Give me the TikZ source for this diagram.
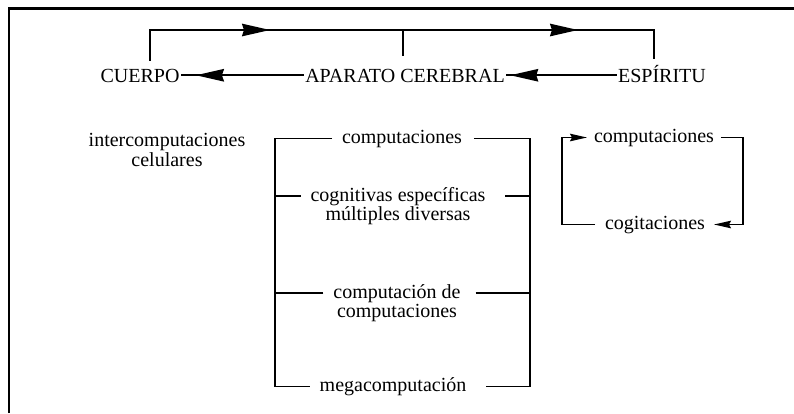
\documentclass[tikz,border=0pt]{standalone}
\usepackage{fontspec}
\setmainfont{Liberation Serif}
\usetikzlibrary{arrows.meta,decorations.markings}
\begin{document}
\begin{tikzpicture}[x=1pt,y=-1pt,
  bigtip/.tip={Stealth[length=28pt,width=12.5pt,inset=2pt]},
  smalltip/.tip={Stealth[length=17pt,width=7.5pt,inset=2pt]},
  txt/.style={font=\fontsize{20}{19.5}\selectfont, inner sep=0pt, outer sep=0pt},
  capt/.style={txt, text height=13.5pt, text depth=0pt, anchor=base, outer xsep=1.5pt},
  one/.style={txt, text height=13pt, text depth=4pt, anchor=base, inner xsep=10pt},
  two/.style={txt, align=center, anchor=north, inner xsep=10pt},
  loopt/.style={txt, text height=13pt, text depth=4pt, anchor=base, inner xsep=7pt},
  conn/.style={line width=1.7pt},
  frame/.style={line width=2.8pt},
  midarrows/.style={postaction={decorate}, decoration={markings,
     mark=at position 150.5pt with {\arrow{bigtip}},
     mark=at position 458.5pt with {\arrow{bigtip}}}},
  endarrow/.style={postaction={decorate}, decoration={markings,
     mark=at position #1 with {\arrow{bigtip}}}}
]
\useasboundingbox (0,0) rectangle (794,413);
\draw[frame] (9,413) -- (9,8.5) -- (794,8.5);

% top row
\node[capt] (cuerpo) at (140,82) {CUERPO};
\node[capt] (aparato) at (405,82) {APARATO CEREBRAL};
\node[capt] (espiritu) at (662,82) {ESPÍRITU};

\coordinate (cu) at ([xshift=10pt,yshift=8pt]cuerpo.north);
\coordinate (ap) at ([xshift=-2pt,yshift=13pt]aparato.north);
\coordinate (es) at ([xshift=-8pt,yshift=10pt]espiritu.north);
\coordinate (top) at (0,30);

\draw[conn, midarrows] (cu) -- (cu |- top) -- (es |- top) -- (es);
\draw[conn] (ap |- top) -- (ap);
\draw[conn, endarrow=-15pt] (aparato.west) -- (cuerpo.east);
\draw[conn, endarrow=-4pt] (espiritu.west) -- (aparato.east);

% left text
\node[two] (inter) at (167,133.3) {intercomputaciones\\celulares};

% bracket column
\node[one] (c1) at (402,143) {computaciones};
\node[two] (c2) at (398,187.3) {cognitivas específicas\\múltiples diversas};
\node[two] (c3) at (397,284.3) {computación de\\computaciones};
\node[one] (c4) at (393,391) {megacomputación};

\coordinate (bl) at (275,0);
\coordinate (br) at (530,0);
\coordinate (c2l) at ([yshift=-8.7pt]c2.north west);
\coordinate (c2r) at ([yshift=-8.7pt]c2.north east);
\coordinate (c3l) at ([yshift=-8.7pt]c3.north west);
\coordinate (c3r) at ([yshift=-8.7pt]c3.north east);

\draw[conn] (c1.west) -- (c1.west -| bl) -- (c4.west -| bl) -- (c4.west);
\draw[conn, shorten <=2pt] (c1.east) -- (c1.east -| br) -- (c4.east -| br) -- ([xshift=10pt]c4.east);
\draw[conn] (c2l) -- (c2l -| bl);
\draw[conn] (c3l) -- (c3l -| bl);
\draw[conn, shorten <=10pt] (c2r) -- (c2r -| br);
\draw[conn, shorten <=5pt] (c3r) -- (c3r -| br);

% right loop
\node[loopt] (r1) at (654,142) {computaciones};
\node[loopt] (r2) at (655,229) {cogitaciones};
\coordinate (rl) at (562,0);
\coordinate (rr) at (743,0);
\draw[conn, -{smalltip}] ([xshift=-3pt]r2.west) -- (r2.west -| rl) -- (r1.west -| rl) -- (r1.west);
\draw[conn, -{smalltip}] (r1.east) -- (r1.east -| rr) -- (r2.east -| rr) -- ([xshift=2pt]r2.east);
\end{tikzpicture}
\end{document}
